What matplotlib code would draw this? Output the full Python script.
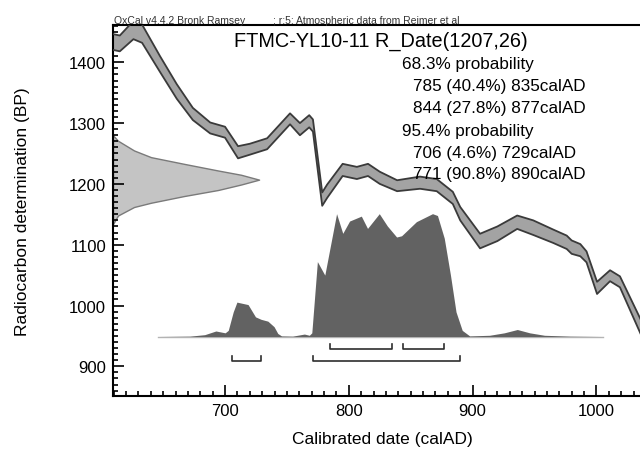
import matplotlib
matplotlib.use('Agg')
import matplotlib.pyplot as plt
from matplotlib.ticker import MultipleLocator
import numpy as np

plt.rcParams['font.family'] = ['Liberation Sans', 'DejaVu Sans']

# calibration curve (centre and 1 sigma, BP)
cal_ad = [608, 615, 626, 633, 647.5, 661, 674, 688, 700, 710.5, 720, 734, 752.5, 760.5,
          768, 771, 778.5, 782.5, 795, 806.5, 815.5, 825, 839, 857.5, 871, 884, 890, 906,
          920, 936, 949, 965, 976, 980, 987, 992, 1000.5, 1011, 1019, 1036]
cal_bp = [1434, 1431, 1453, 1447, 1397, 1352, 1315, 1292, 1285, 1252, 1257, 1266, 1307, 1290,
          1303, 1296, 1175, 1188, 1223, 1218, 1223, 1210, 1197, 1202, 1198, 1177, 1151, 1106,
          1118, 1137, 1128, 1114, 1104, 1096, 1091, 1080, 1029, 1049, 1039, 964]
cal_err = [13, 13, 15, 15, 13, 12, 10, 9, 9, 10, 9, 9, 9, 10,
           10, 10, 11, 11, 10, 10, 10, 10, 9, 10, 10, 10, 11, 12,
           12, 11, 12, 11, 11, 11, 10, 9, 10, 9, 9, 12]

# calibrated probability (relative)
prob_ad = [646, 672, 684, 693, 700.5, 703, 707, 710, 719, 725, 729.5, 735, 740, 743, 746,
           755, 764.5, 768.5, 770.5, 775, 781, 790.5, 795.5, 801, 810.5, 815.5, 825, 831.5,
           839, 843, 855, 868, 872, 877.5, 882.5, 887, 892, 898, 914, 926, 936.5, 946.5,
           958.5, 979, 1005]
prob = [0, 0.003, 0.015, 0.045, 0.03, 0.05, 0.2, 0.28, 0.26, 0.16, 0.14, 0.125, 0.08, 0.025, 0.005,
        0.003, 0.02, 0.01, 0.03, 0.61, 0.5, 1.0, 0.84, 0.94, 0.98, 0.88, 1.0, 0.9,
        0.81, 0.82, 0.935, 1.0, 0.985, 0.8, 0.5, 0.2, 0.05, 0.005, 0.01, 0.03, 0.057, 0.03,
        0.01, 0.003, 0]

# radiocarbon date R_Date(1207,26), relative height
gauss_bp = [1280, 1271, 1255, 1244, 1233, 1222, 1215, 1207, 1199, 1190, 1180, 1169, 1162, 1148, 1134]
gauss_rel = [0, 0.034, 0.144, 0.26, 0.486, 0.72, 0.877, 1.0, 0.877, 0.72, 0.486, 0.26, 0.144, 0.034, 0]

ranges68 = [(785, 835), (844, 877)]
ranges95 = [(706, 729), (771, 890)]

text_lines = ['68.3% probability', '785 (40.4%) 835calAD', '844 (27.8%) 877calAD',
              '95.4% probability', '706 (4.6%) 729calAD', '771 (90.8%) 890calAD']

xmin, xmax = 609.5, 1035.2
ymin, ymax = 851.2, 1461.3

fig = plt.figure(figsize=(6.4, 4.52), dpi=100)
ax = fig.add_axes([113/640, 1-397/452, 527/640, 371/452])

# R_Date on the y axis
gx = xmin + 118*np.array(gauss_rel)
ax.fill_betweenx(gauss_bp, xmin, gx, facecolor='#c4c4c4', edgecolor='#7a7a7a', lw=1.0, zorder=1)

# calibration curve band
c = np.array(cal_bp)
e = np.array(cal_err)
ax.fill_between(cal_ad, c-e, c+e, facecolor='#a3a3a3', edgecolor='none', zorder=2)
ax.plot(cal_ad, c+e, color='#3a3a3a', lw=1.3, zorder=3)
ax.plot(cal_ad, c-e, color='#3a3a3a', lw=1.3, zorder=3)

# calibrated distribution
base = 948.2
ax.plot([prob_ad[0], prob_ad[-1]], [base, base], color='#b5b5b5', lw=1.0, zorder=2)
ax.fill_between(prob_ad, base, base+202*np.array(prob), facecolor='#626262', edgecolor='none', zorder=3)

# range brackets
for rng, yb in [(ranges68, 928.5), (ranges95, 908.8)]:
    for a, b in rng:
        ax.plot([a, a, b, b], [yb+9, yb, yb, yb+9], color='#2e2e2e', lw=1.2, zorder=4)

ax.set_xlim(xmin, xmax)
ax.set_ylim(ymin, ymax)
ax.xaxis.set_major_locator(MultipleLocator(100))
ax.xaxis.set_minor_locator(MultipleLocator(10))
ax.yaxis.set_major_locator(MultipleLocator(100))
ax.yaxis.set_minor_locator(MultipleLocator(10))
ax.tick_params(which='both', direction='in', top=False, right=False, labelsize=12, width=1.2)
ax.tick_params(which='major', length=8, pad=5)
ax.tick_params(which='minor', length=3.5)
ax.spines['right'].set_visible(False)
for s in ['left', 'bottom', 'top']:
    ax.spines[s].set_linewidth(1.5)

def fx(x):
    return x/640
def fy(y):
    return 1-y/452

fig.text(fx(380.5), fy(41), 'FTMC-YL10-11 R_Date(1207,26)', fontsize=14.3, ha='center', va='center')
line_y = [69.3, 91, 112.7, 136, 157.7, 179.3]
for i, t in enumerate(text_lines):
    xx = 401.7 if 'probability' in t else 412.7
    fig.text(fx(xx), fy(line_y[i]), t, fontsize=12.3, ha='left', va='baseline')

fig.text(fx(113.5), fy(23.5), 'OxCal v4.4.2 Bronk Ramsey', fontsize=7.5, ha='left', va='baseline', color='#333333')
fig.text(fx(272.7), fy(23.5), '; r:5: Atmospheric data from Reimer et al', fontsize=7.5, ha='left', va='baseline', color='#333333')

fig.text(fx(382), fy(440), 'Calibrated date (calAD)', fontsize=12.5, ha='center', va='center')
fig.text(fx(23), fy(212), 'Radiocarbon determination (BP)', fontsize=12.5, ha='center', va='center', rotation=90)

fig.savefig('out.png', dpi=100)
